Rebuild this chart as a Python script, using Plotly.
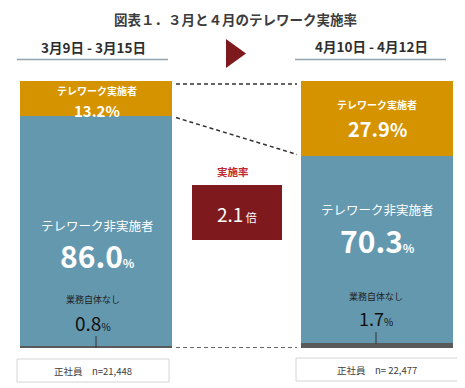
import plotly.graph_objects as go

# ---- data ----
periods = ["3月9日 - 3月15日", "4月10日 - 4月12日"]
implemented = [13.2, 27.9]          # テレワーク実施者
not_implemented = [86.0, 70.3]      # テレワーク非実施者
no_work = [0.8, 1.7]                # 業務自体なし
sample_n = ["正社員　n=21,448", "正社員　n= 22,477"]
ratio = 2.1
title = "図表１．３月と４月のテレワーク実施率"

# ---- layout geometry (pixels) ----
OX, OY = 8, 8                 # page body margin offset
W, H = 457, 380
L, T = 20 - OX, 81 - OY
PW, PH = 433, 267
R = W - L - PW
B = H - T - PH
FONT = "Noto Sans CJK JP"
ORANGE = "#D69300"
BLUE = "#6498AF"
GRAY = "#5A5A5A"
DARKRED = "#7E1A1E"

def px(x):
    return (x - OX - L) / PW

def py(y):
    return (H - B - (y - OY)) / PH

bw = 152 / 281  # bar width in axis units
xs = [0, 1]

fig = go.Figure()
fig.add_bar(x=xs, y=no_work, width=bw, marker=dict(color=GRAY, line_width=0), name="業務自体なし")
fig.add_bar(x=xs, y=not_implemented, width=bw, marker=dict(color=BLUE, line_width=0), name="テレワーク非実施者")
fig.add_bar(x=xs, y=implemented, width=bw, marker=dict(color=ORANGE, line_width=0), name="テレワーク実施者")

xr0 = -76 / 281
fig.update_layout(
    width=W, height=H,
    margin=dict(l=L, r=R, t=T, b=B, pad=0),
    barmode="stack",
    showlegend=False,
    paper_bgcolor="white", plot_bgcolor="white",
    xaxis=dict(range=[xr0, 1 - xr0], visible=False, fixedrange=True),
    yaxis=dict(range=[0, 100], visible=False, fixedrange=True),
    font=dict(family=FONT),
)

ann = []
def text(x, y, s, size, color="white", bold=False, xanchor="center", yanchor="middle", pad=1):
    ann.append(dict(x=px(x), y=py(y), xref="paper", yref="paper", text=s, showarrow=False,
                    xanchor=xanchor, yanchor=yanchor, borderpad=pad,
                    font=dict(family=FONT, size=size, color=color, weight="bold" if bold else "normal")))

def pct(v, small):
    return f"{v:.1f}<span style='font-size:{small}px'>%</span>"

# title & headers
text(235, 8, title, 13.5, "#3C3C3C", True, yanchor="top", pad=0)
text(93, 47, periods[0], 13.5, "#2E2E2E", True)
text(371, 46, periods[1], 13.5, "#2E2E2E", True)

# bar labels: left
text(97, 90, "テレワーク実施者", 10, "white", True)
text(97, 110, pct(implemented[0], 15), 15, "white", True)
text(97, 225, "テレワーク非実施者", 12.5, "white", False)
text(97, 255, pct(not_implemented[0], 12), 30, "white", True)
text(93, 299, "業務自体なし", 9, "#1E1E1E", False)
text(93, 322, pct(no_work[0], 10), 19, "#111111", False)

# right
text(377, 104, "テレワーク実施者", 10, "white", True)
text(377, 128, pct(implemented[1], 18), 20, "white", True)
text(377, 209, "テレワーク非実施者", 12.5, "white", False)
text(377, 240, pct(not_implemented[1], 12), 30, "white", True)
text(376, 296, "業務自体なし", 9, "#1E1E1E", False)
text(376, 318, pct(no_work[1], 10), 18, "#111111", False)

# ratio box
text(233, 171, "実施率", 10.5, "#C0282E", True)
text(237, 213, f"{ratio}<span style='font-size:11px'> 倍</span>", 19, "white", False)

# bottom boxes
text(93, 371, sample_n[0], 9.5, "#404040", False)
text(377, 370, sample_n[1], 9.5, "#404040", False)

fig.update_layout(annotations=ann)

shapes = []
def pline(x0, y0, x1, y1, color, width, dash="solid"):
    shapes.append(dict(type="line", xref="paper", yref="paper", x0=px(x0), y0=py(y0), x1=px(x1), y1=py(y1),
                       line=dict(color=color, width=width, dash=dash)))

# header underlines
pline(17, 59.5, 168, 59.5, "#8FA3B0", 1.5)
pline(295, 59.5, 446, 59.5, "#8FA3B0", 1.5)

# triangle
shapes.append(dict(type="path", xref="paper", yref="paper",
                   path=f"M {px(226)},{py(39)} L {px(246)},{py(53.5)} L {px(226)},{py(68)} Z",
                   fillcolor=DARKRED, line=dict(width=0)))

# ratio box
shapes.append(dict(type="rect", xref="paper", yref="paper", x0=px(192), y0=py(185), x1=px(282), y1=py(240),
                   fillcolor=DARKRED, line=dict(width=0)))

# dashed connector lines (data coords, linked to bar segments)
gap = 4 / 281
xl = bw / 2 + gap
xrr = 1 - bw / 2 - gap
top0 = no_work[0] + not_implemented[0] + implemented[0]
top1 = no_work[1] + not_implemented[1] + implemented[1]
for (y0, y1) in [(top0 - 1.1, top1 - 1.0),
                 (no_work[0] + not_implemented[0] - 0.5, no_work[1] + not_implemented[1] + 0.5),
                 (0.0, 0.0)]:
    shapes.append(dict(type="line", xref="x", yref="y", x0=xl, y0=y0, x1=xrr, y1=y1,
                       line=dict(color="#333333", width=1.5, dash="4px,3px")))

# tick lines under "業務自体なし"
pline(96, 336, 96, 348, "#333333", 1)
pline(376, 332, 376, 344, "#333333", 1)

# bottom boxes
for (x0, y0, x1, y1) in [(17, 359, 169, 382), (296, 358, 458, 381)]:
    shapes.append(dict(type="rect", xref="paper", yref="paper", x0=px(x0), y0=py(y0), x1=px(x1), y1=py(y1),
                       fillcolor="white", line=dict(color="#D4D4D4", width=1), layer="below"))

fig.update_layout(shapes=shapes)
fig.write_html("out.html")
